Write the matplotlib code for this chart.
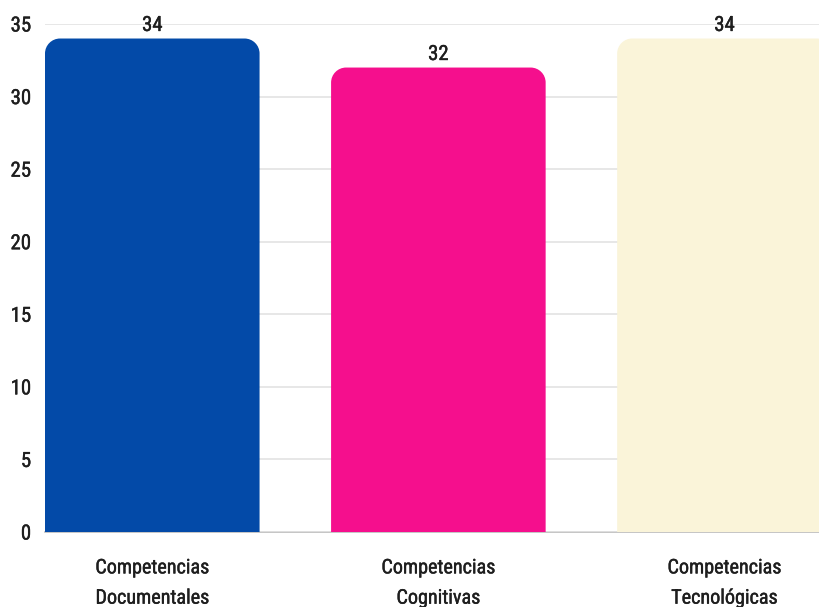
import matplotlib
matplotlib.use("Agg")
import matplotlib.pyplot as plt
from matplotlib.path import Path
from matplotlib.patches import PathPatch
from matplotlib import font_manager
from matplotlib.font_manager import FontProperties
import matplotlib.patheffects as pe

categories = ["Competencias\nDocumentales", "Competencias\nCognitivas", "Competencias\nTecnológicas"]
values = [34, 32, 34]
colors = ["#034AA8", "#F50F8D", "#FAF4D9"]
yticks = [0, 5, 10, 15, 20, 25, 30, 35]

# pick a condensed font if available
cands = []
for f in font_manager.fontManager.ttflist:
    low = (f.name + " " + f.fname).lower()
    if ("narrow" in low or "condensed" in low) and "bold" not in low and "italic" not in low and "oblique" not in low and "light" not in low:
        cands.append(f)
pref = ["liberation sans narrow", "roboto condensed", "open sans condensed", "dejavu sans condensed", "dejavusanscondensed"]
chosen = None
for p in pref:
    for f in cands:
        if p in (f.name + " " + f.fname).lower().replace("-", " "):
            chosen = f
            break
    if chosen:
        break
if chosen is None and cands:
    chosen = cands[0]

if chosen is not None:
    FP = lambda size: FontProperties(fname=chosen.fname, size=size)
else:
    FP = lambda size: FontProperties(family="DejaVu Sans", size=size)

TXT = "#1e1e1e"
thick = [pe.withStroke(linewidth=0.3, foreground=TXT)]

fig = plt.figure(figsize=(8.2, 6.07), dpi=100)
ax = fig.add_axes([45 / 820, 75 / 607, 1 - 45 / 820, (532 - 24) / 607])

width = 0.75
x_pos = list(range(len(values)))
ax.set_xlim(-0.375, 2.334)
ax.set_ylim(0, 35)

rx = 15 / 286
ry = 15 / (508 / 35)

def rounded_top_bar(xc, h, w):
    x0, x1 = xc - w / 2, xc + w / 2
    k = 0.5523
    verts = [
        (x0, 0), (x0, h - ry),
        (x0, h - ry + k * ry), (x0 + rx - k * rx, h), (x0 + rx, h),
        (x1 - rx, h),
        (x1 - rx + k * rx, h), (x1, h - ry + k * ry), (x1, h - ry),
        (x1, 0), (x0, 0),
    ]
    codes = [Path.MOVETO, Path.LINETO,
             Path.CURVE4, Path.CURVE4, Path.CURVE4,
             Path.LINETO,
             Path.CURVE4, Path.CURVE4, Path.CURVE4,
             Path.LINETO, Path.CLOSEPOLY]
    return Path(verts, codes)

fs = 14.5
for xc, v, c in zip(x_pos, values, colors):
    ax.add_patch(PathPatch(rounded_top_bar(xc, v, width), facecolor=c, edgecolor="none", zorder=2))
    ax.text(xc, v + 0.9, f"{v}", ha="center", va="center", fontproperties=FP(fs + 0.5),
            color=TXT, zorder=3, path_effects=thick)

ax.set_yticks(yticks)
ax.set_yticklabels([str(t) for t in yticks], fontproperties=FP(fs + 0.5))
ax.set_xticks(x_pos)
ax.set_xticklabels(categories, fontproperties=FP(fs), linespacing=1.75)
for t in ax.get_yticklabels() + ax.get_xticklabels():
    t.set_path_effects(thick)
ax.tick_params(axis="both", length=0, colors=TXT)
ax.tick_params(axis="y", pad=10)
ax.tick_params(axis="x", pad=19)

ax.grid(axis="y", color="#e3e3e3", linewidth=1.2, zorder=0)
for s in ["top", "right", "left"]:
    ax.spines[s].set_visible(False)
ax.spines["bottom"].set_color("#bbbbbb")
ax.spines["bottom"].set_linewidth(1.2)
ax.spines["bottom"].set_zorder(1)

fig.savefig("out.png", dpi=100)
